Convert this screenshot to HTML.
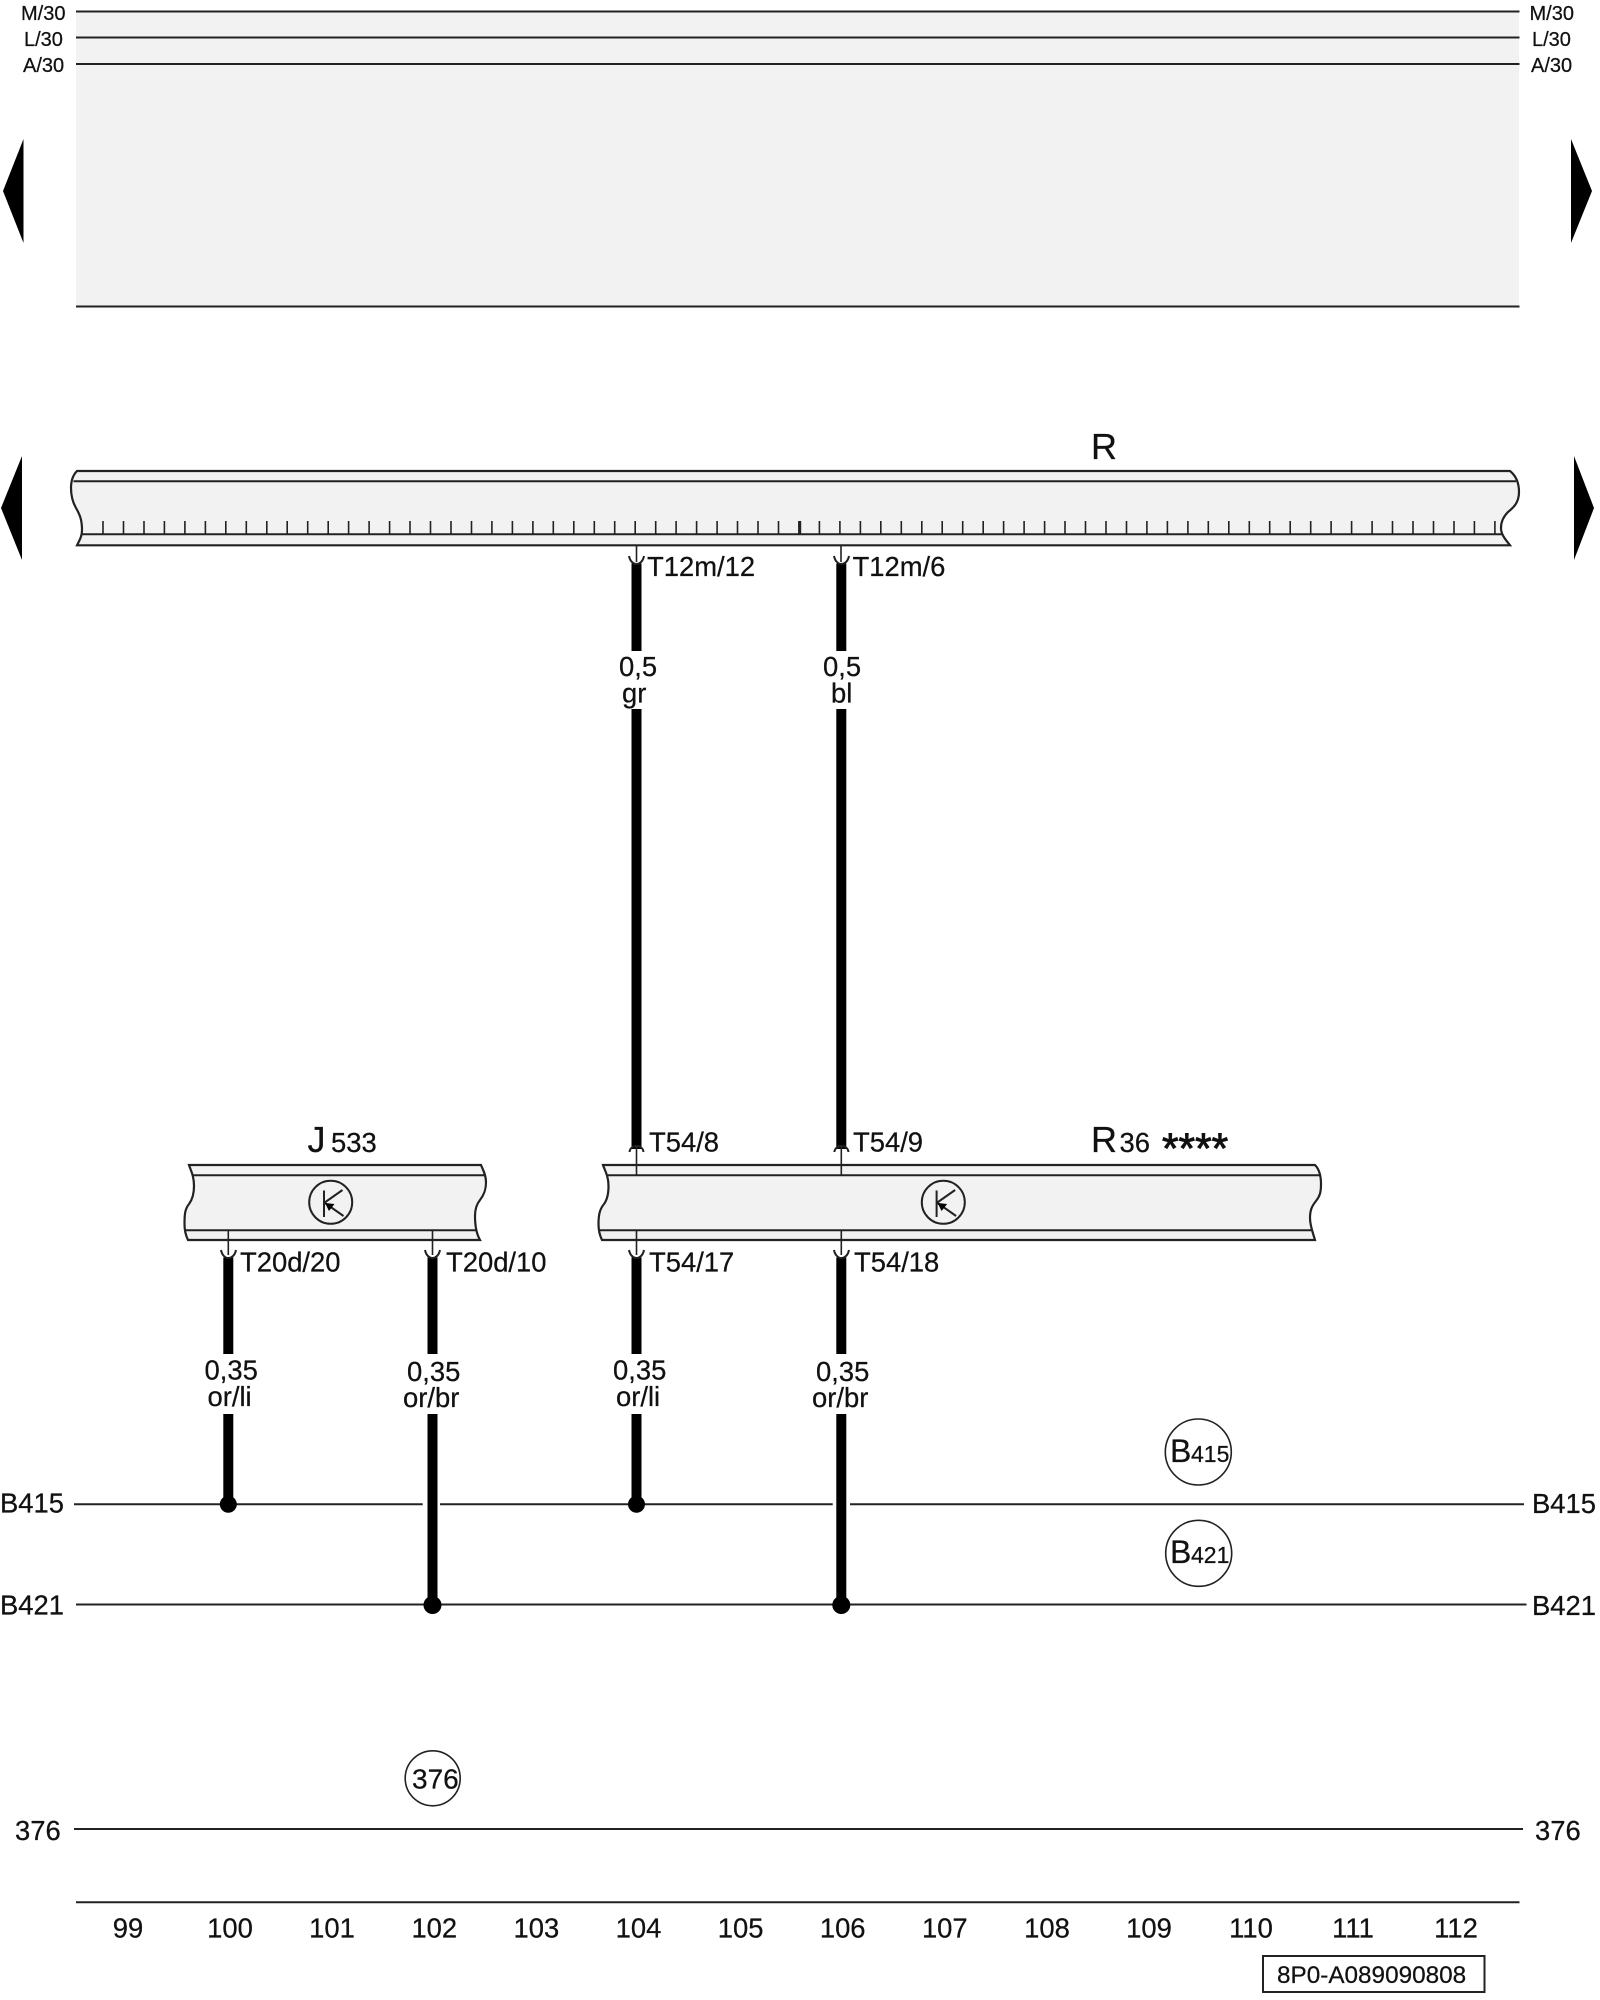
<!DOCTYPE html>
<html>
<head>
<meta charset="utf-8">
<style>
html,body{margin:0;padding:0;background:#fff;width:1600px;height:2000px;overflow:hidden}
svg{display:block}
text{font-family:"Liberation Sans",Arial,sans-serif;fill:#111;stroke:#111;stroke-width:.25}
.l{stroke:#222;stroke-width:2;fill:none}
.w{stroke:#000;stroke-width:10;fill:none}
.t{stroke:#222;stroke-width:1.6;fill:none}
.bar{fill:#f2f2f2;stroke:#222;stroke-width:2.2}
.f27{font-size:27.4px}
.f20{font-size:20px}
</style>
</head>
<body>
<svg xmlns="http://www.w3.org/2000/svg" width="1600" height="2000" viewBox="0 0 1600 2000">
<rect x="0" y="0" width="1600" height="2000" fill="#fff"/>

<!-- top band -->
<rect x="76" y="11" width="1443" height="295" fill="#f2f2f2"/>
<path class="l" d="M76 11.500H1519.500M76 37.500H1519.500M76 64H1519.500M76 306.500H1519.500"/>
<text class="f20" x="21" y="20">M/30</text>
<text class="f20" x="24" y="46">L/30</text>
<text class="f20" x="23" y="72">A/30</text>
<text class="f20" x="1529.500" y="20">M/30</text>
<text class="f20" x="1532" y="46">L/30</text>
<text class="f20" x="1531" y="72">A/30</text>

<!-- page arrows -->
<path d="M3 191L23.500 139V243Z" fill="#000"/>
<path d="M1592 191L1571 139V243Z" fill="#000"/>
<path d="M1 508L22 456V560Z" fill="#000"/>
<path d="M1594 508L1574 456V560Z" fill="#000"/>

<!-- R bar -->
<path class="bar" d="M77 471H1510C1515 475 1519 482 1519 492C1519 503 1513 508 1508 512C1503 517 1501 522 1501 528C1501 535 1506 540 1510 545.300H77C79 541 82 537 82 530C82 520 80 515 76 508C72 501 71 495 71 488C71 480 73 475 77 471Z"/>
<path class="l" d="M73.500 481.300H1516M81.500 534.300H1502"/>
<path id="ticks" class="t" d="M103 521V534M123.500 521V534M144 521V534M164.400 521V534M184.900 521V534M205.400 521V534M225.800 521V534M246.300 521V534M266.800 521V534M287.200 521V534M307.700 521V534M328.200 521V534M348.600 521V534M369.100 521V534M389.600 521V534M410 521V534M430.500 521V534M451 521V534M471.500 521V534M491.900 521V534M512.400 521V534M532.900 521V534M553.300 521V534M573.800 521V534M594.300 521V534M614.700 521V534M635.200 521V534M655.700 521V534M676.100 521V534M696.600 521V534M717.100 521V534M737.500 521V534M758 521V534M778.500 521V534M799 521V534M819.400 521V534M839.900 521V534M860.400 521V534M880.800 521V534M901.300 521V534M921.800 521V534M942.200 521V534M962.700 521V534M983.200 521V534M1003.600 521V534M1024.100 521V534M1044.600 521V534M1065 521V534M1085.500 521V534M1106 521V534M1126.500 521V534M1146.900 521V534M1167.400 521V534M1187.900 521V534M1208.300 521V534M1228.800 521V534M1249.300 521V534M1269.700 521V534M1290.200 521V534M1310.700 521V534M1331.100 521V534M1351.600 521V534M1372.100 521V534M1392.500 521V534M1413 521V534M1433.500 521V534M1454 521V534M1474.400 521V534M1494.900 521V534"/>
<path d="M799.700 521V534" stroke="#222" stroke-width="3"/>
<text x="1091" y="459" font-size="36">R</text>

<!-- J533 bar -->
<path class="bar" d="M189 1165H481C483 1170 486 1175 486 1182C486 1190 484 1195 480 1200C476 1205 475 1210 475 1216C475 1225 476 1233 480 1240H188C186 1236 184.500 1231 184.500 1224C184.500 1214 185 1209 189 1204C192 1200 194 1195 194 1186C194 1176 191 1171 189 1165Z"/>
<path class="l" d="M192.500 1175.300H485M185 1230.300H476"/>
<text x="307.500" y="1152" font-size="36">J</text>
<text class="f27" x="331" y="1152">533</text>

<!-- R36 bar -->
<path class="bar" d="M603 1165H1315C1319 1169 1321 1175 1321 1184C1321 1192 1320 1196 1316 1201C1312 1206 1310 1210 1310 1218C1310 1226 1313 1233 1315 1240H602C600 1236 598.500 1231 598.500 1224C598.500 1214 600 1209 604 1204C607 1200 608.500 1195 608.500 1186C608.500 1176 605 1171 603 1165Z"/>
<path class="l" d="M606.500 1175.300H1320M599 1230.300H1311"/>
<text x="1091" y="1152" font-size="36">R</text>
<text class="f27" x="1119.500" y="1152">36</text>
<text x="1162" y="1163" font-size="42.500" stroke-width=".8" style="stroke-width:.9">****</text>

<!-- transistor symbols -->
<g>
<circle class="t" cx="330.700" cy="1202.300" r="21.500" style="stroke-width:2"/>
<path class="l" d="M324 1190.500V1217M324 1203L342.500 1190M325 1203L343.500 1216"/>
<path d="M325 1203L334.500 1204L329 1211Z" fill="#000"/>
</g>
<g>
<circle class="t" cx="943.300" cy="1202.300" r="21.500" style="stroke-width:2"/>
<path class="l" d="M936.600 1190.500V1217M936.600 1203L955.100 1190M937.600 1203L956.100 1216"/>
<path d="M937.600 1203L947.100 1204L941.600 1211Z" fill="#000"/>
</g>

<!-- upper wires -->
<path class="w" d="M636.500 563.500V651M636.500 709V1149M841.300 563.500V651M841.300 709V1149"/>
<path class="t" d="M636.500 546V562M841 546V562M636.500 1146V1175M841.300 1146V1175"/>
<path class="l" d="M629 556C630 561 633 564 636.500 564C640 564 643 561 644 556M834 556C835 561 838 564 841.300 564C845 564 848 561 849 556"/>
<path class="l" d="M629.500 1152C630 1148 633 1146 636.500 1146C640 1146 643 1148 643.500 1152M834.300 1152C835 1148 838 1146 841.300 1146C845 1146 848 1148 848.500 1152"/>
<text class="f27" x="647" y="576">T12m/12</text>
<text class="f27" x="852.500" y="576">T12m/6</text>
<text class="f27" x="619" y="676">0,5</text>
<text class="f27" x="622" y="702.500">gr</text>
<text class="f27" x="823" y="676">0,5</text>
<text class="f27" x="831" y="702.500">bl</text>
<text class="f27" x="649" y="1151.500">T54/8</text>
<text class="f27" x="853" y="1151.500">T54/9</text>

<!-- lower wires -->
<path class="w" d="M228.300 1257.500V1354M228.300 1414V1504M432.500 1257.500V1354M432.500 1414V1605M636.500 1257.500V1354M636.500 1414V1504M841.300 1257.500V1354M841.300 1414V1605"/>
<path class="t" d="M228.300 1231V1255M432.500 1231V1255M636.500 1231V1255M841.300 1231V1255"/>
<path class="l" d="M221 1250C222 1255 225 1258 228.300 1258C232 1258 235 1255 236 1250M425 1250C426 1255 429 1258 432.500 1258C436 1258 439 1255 440 1250M629 1250C630 1255 633 1258 636.500 1258C640 1258 643 1255 644 1250M834 1250C835 1255 838 1258 841.300 1258C845 1258 848 1255 849 1250"/>
<text class="f27" x="240" y="1271.500">T20d/20</text>
<text class="f27" x="446" y="1271.500">T20d/10</text>
<text class="f27" x="649" y="1271.500">T54/17</text>
<text class="f27" x="854" y="1271.500">T54/18</text>
<text class="f27" x="204.500" y="1379.500">0,35</text>
<text class="f27" x="207.500" y="1406">or/li</text>
<text class="f27" x="407" y="1381">0,35</text>
<text class="f27" x="403" y="1407">or/br</text>
<text class="f27" x="613" y="1379.500">0,35</text>
<text class="f27" x="616" y="1406">or/li</text>
<text class="f27" x="816" y="1381">0,35</text>
<text class="f27" x="812" y="1407">or/br</text>

<!-- buses -->
<path class="l" d="M74 1504.300H422.700M440 1504.300H832.700M850 1504.300H1524M76 1604.500H1526.500M74 1829H1523M76 1902.300H1519.500"/>
<circle cx="228.300" cy="1504.300" r="8.500" fill="#000"/>
<circle cx="636.500" cy="1504.300" r="8.500" fill="#000"/>
<circle cx="432.500" cy="1605" r="9" fill="#000"/>
<circle cx="841.300" cy="1605" r="9" fill="#000"/>
<text class="f27" x="0" y="1512.500">B415</text>
<text class="f27" x="0" y="1614.500">B421</text>
<text class="f27" x="1532" y="1513">B415</text>
<text class="f27" x="1532" y="1615">B421</text>
<text class="f27" x="15" y="1840">376</text>
<text class="f27" x="1535" y="1840">376</text>

<!-- reference circles -->
<circle class="t" cx="1198.300" cy="1452" r="33"/>
<text x="1170" y="1462" font-size="32">B</text>
<text x="1191" y="1462" font-size="23">415</text>
<circle class="t" cx="1198.700" cy="1553.300" r="33"/>
<text x="1170" y="1563" font-size="32">B</text>
<text x="1191" y="1563" font-size="23">421</text>
<circle class="t" cx="432.700" cy="1778.300" r="27.500"/>
<text x="412" y="1788.500" font-size="28">376</text>

<!-- column numbers -->
<g class="f27" text-anchor="middle">
<text x="128" y="1937.500">99</text>
<text x="230" y="1937.500">100</text>
<text x="332" y="1937.500">101</text>
<text x="434.300" y="1937.500">102</text>
<text x="536.400" y="1937.500">103</text>
<text x="638.500" y="1937.500">104</text>
<text x="740.600" y="1937.500">105</text>
<text x="842.700" y="1937.500">106</text>
<text x="944.800" y="1937.500">107</text>
<text x="1047" y="1937.500">108</text>
<text x="1149" y="1937.500">109</text>
<text x="1251" y="1937.500">110</text>
<text x="1353" y="1937.500">111</text>
<text x="1456" y="1937.500">112</text>
</g>

<!-- drawing id -->
<rect x="1263" y="1956" width="221.500" height="36" fill="#fff" stroke="#222" stroke-width="2"/>
<text x="1277" y="1983" font-size="24.300">8P0-A089090808</text>
</svg>
</body>
</html>
